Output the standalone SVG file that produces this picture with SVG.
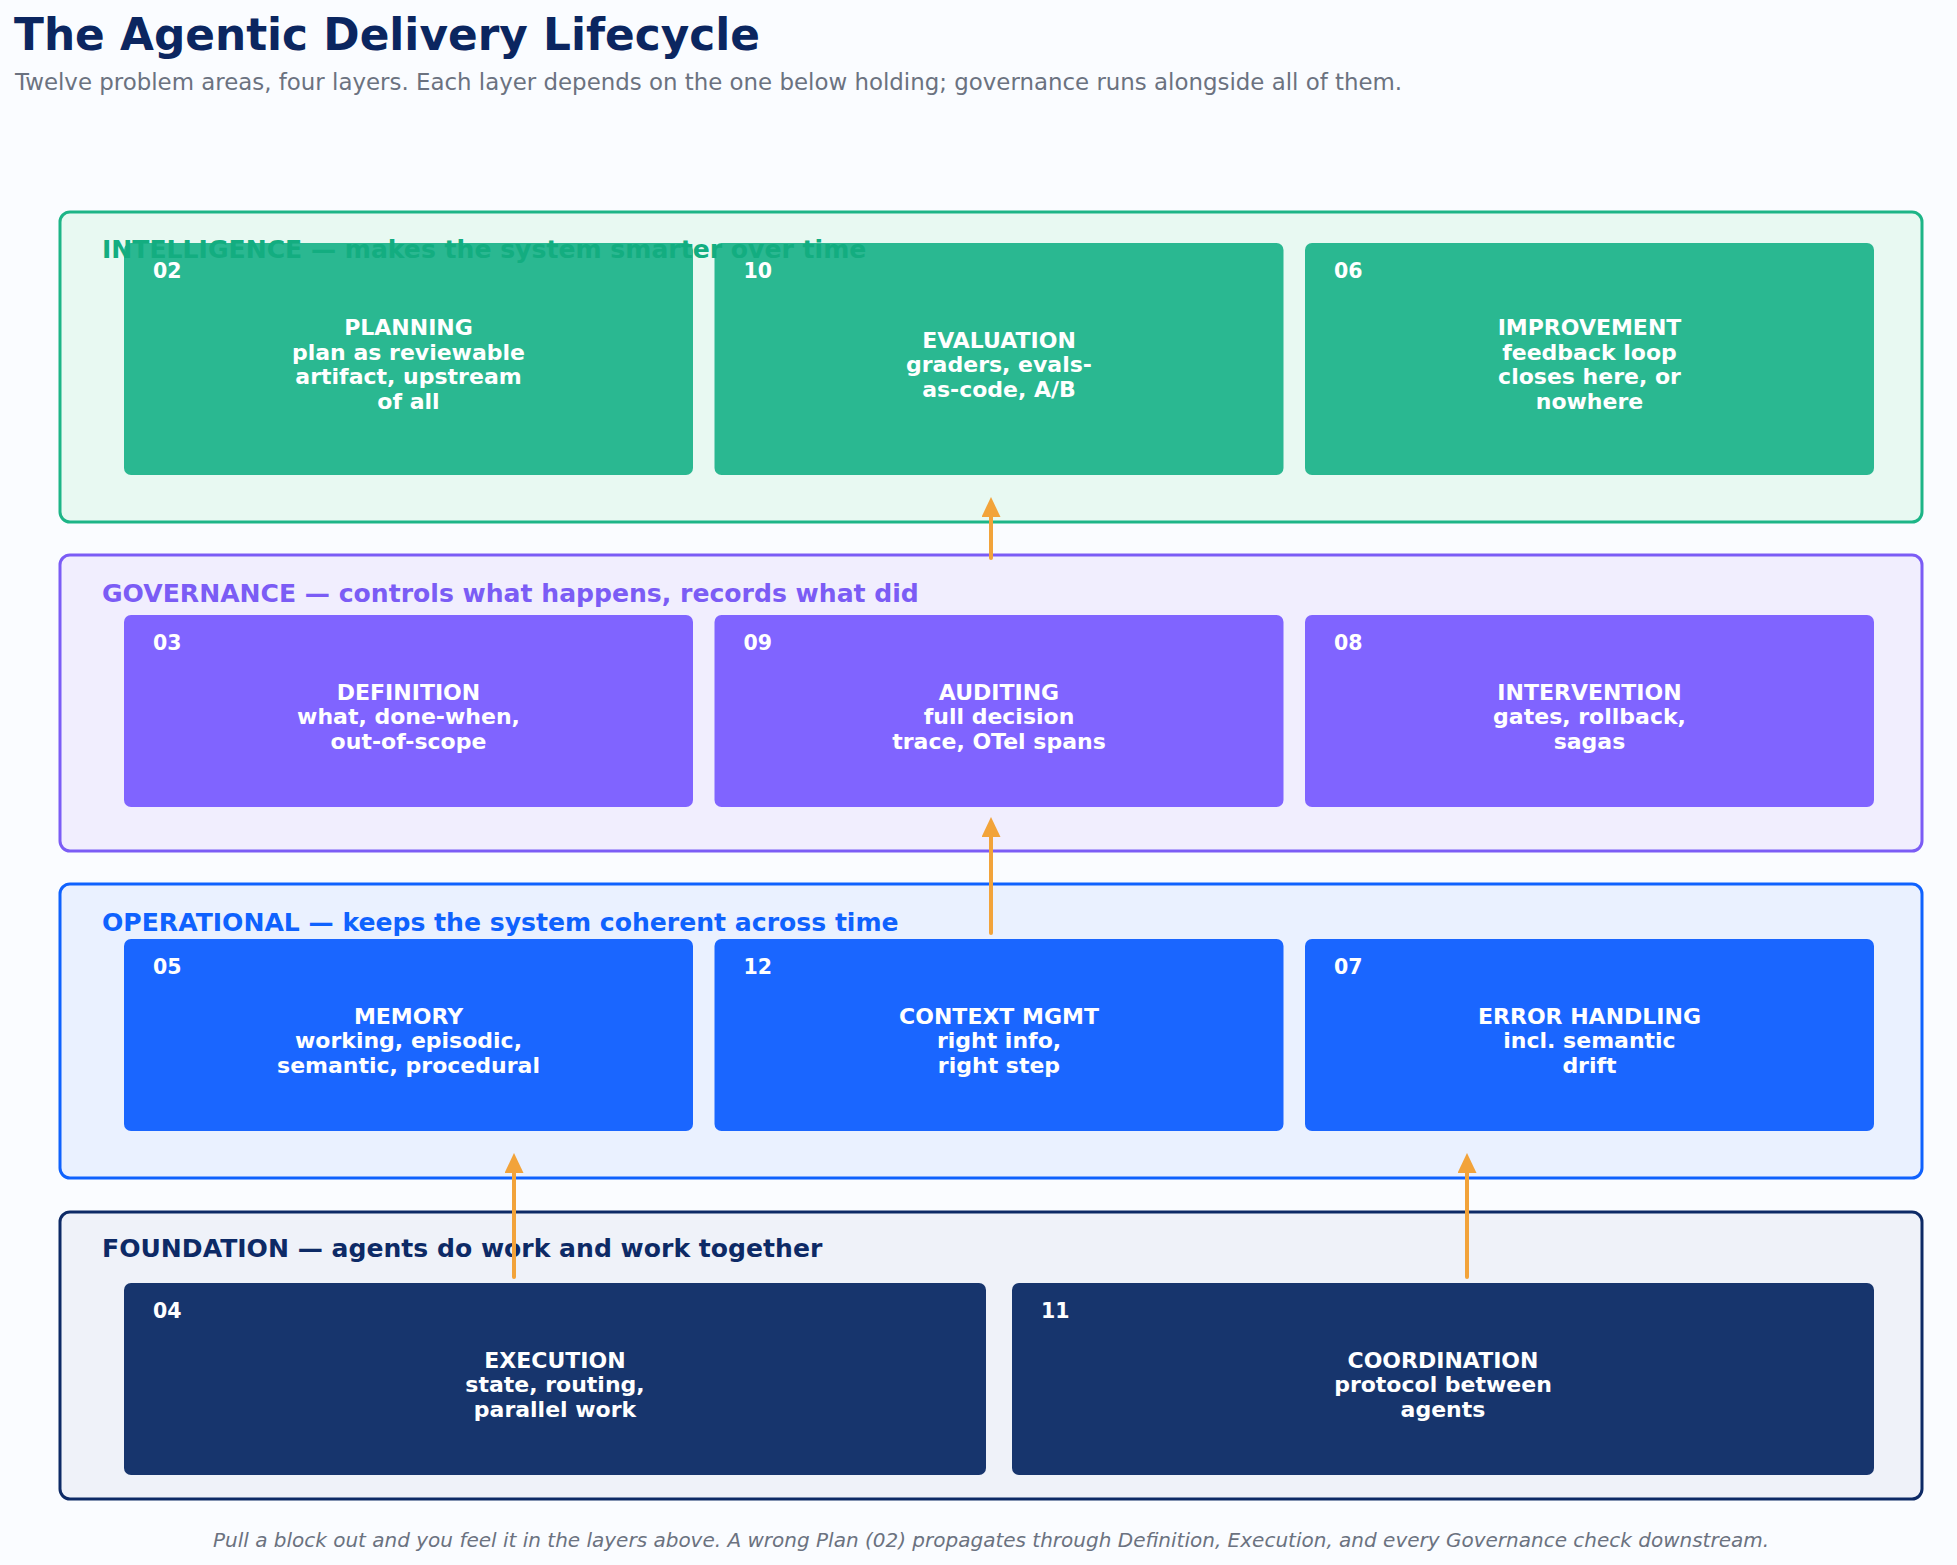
<svg xmlns="http://www.w3.org/2000/svg" width="1957" height="1565" viewBox="0 0 1957 1565">
<defs>
<style>
text{font-family:"DejaVu Sans","Liberation Sans",sans-serif}
.title{font-size:43.8px;font-weight:bold;fill:#0b2660}
.sub{font-size:22.9px;fill:#6b7280}
.foot{font-size:20px;font-style:italic;fill:#6b7280}
.lbl{font-size:25.1px;font-weight:bold}
.num{font-size:20.5px;font-weight:bold;fill:#ffffff}
.ct{font-size:22px;font-weight:bold;fill:#ffffff;text-anchor:middle}
.layer{stroke-width:3}
.conn{stroke:#f2a33a;stroke-width:4;stroke-linecap:round;fill:none}
</style>
<marker id="ah" markerUnits="userSpaceOnUse" markerWidth="20" markerHeight="20" refX="4" refY="9.5" orient="auto">
<path d="M0,0 L20,9.5 L0,19 z" fill="#f2a33a"/>
</marker>
</defs>
<rect width="1957" height="1565" fill="#fafcff"/>
<text class="title" x="14" y="50">The Agentic Delivery Lifecycle</text>
<text class="sub" x="15" y="90">Twelve problem areas, four layers. Each layer depends on the one below holding; governance runs alongside all of them.</text>

<g id="layer-intelligence">
<rect class="layer" x="60" y="212" width="1862" height="310" rx="10" fill="#e8f9f2" stroke="#1db587"/>
</g>
<g id="layer-governance">
<rect class="layer" x="60" y="555" width="1862" height="296" rx="10" fill="#f1eefe" stroke="#7b5cf5"/>
<text class="lbl" x="102" y="602" fill="#7b5cf5">GOVERNANCE — controls what happens, records what did</text>
</g>
<g id="layer-operational">
<rect class="layer" x="60" y="884" width="1862" height="294" rx="10" fill="#eaf1ff" stroke="#0f62fe"/>
<text class="lbl" x="102" y="931" fill="#0f62fe">OPERATIONAL — keeps the system coherent across time</text>
</g>
<g id="layer-foundation">
<rect class="layer" x="60" y="1212" width="1862" height="287" rx="10" fill="#eff2f9" stroke="#0d2a66"/>
<text class="lbl" x="102" y="1257" fill="#0d2a66">FOUNDATION — agents do work and work together</text>
</g>

<g id="node-02">
<rect x="124" y="243" width="569" height="232" rx="7" fill="#2ab891"/>
<text class="num" x="153" y="278">02</text>
<text class="ct" x="408.5" y="335"><tspan x="408.5">PLANNING</tspan><tspan x="408.5" dy="24.5">plan as reviewable</tspan><tspan x="408.5" dy="24.5">artifact, upstream</tspan><tspan x="408.5" dy="24.5">of all</tspan></text>
</g>
<g id="node-10">
<rect x="714.5" y="243" width="569" height="232" rx="7" fill="#2ab891"/>
<text class="num" x="743.5" y="278">10</text>
<text class="ct" x="999" y="347.5"><tspan x="999">EVALUATION</tspan><tspan x="999" dy="24.5">graders, evals-</tspan><tspan x="999" dy="24.5">as-code, A/B</tspan></text>
</g>
<g id="node-06">
<rect x="1305" y="243" width="569" height="232" rx="7" fill="#2ab891"/>
<text class="num" x="1334" y="278">06</text>
<text class="ct" x="1589.5" y="335"><tspan x="1589.5">IMPROVEMENT</tspan><tspan x="1589.5" dy="24.5">feedback loop</tspan><tspan x="1589.5" dy="24.5">closes here, or</tspan><tspan x="1589.5" dy="24.5">nowhere</tspan></text>
</g>
<text class="lbl" x="102" y="258" fill="#13ad80">INTELLIGENCE — makes the system smarter over time</text>

<g id="node-03">
<rect x="124" y="615" width="569" height="192" rx="7" fill="#8064ff"/>
<text class="num" x="153" y="650">03</text>
<text class="ct" x="408.5" y="699.5"><tspan x="408.5">DEFINITION</tspan><tspan x="408.5" dy="24.5">what, done-when,</tspan><tspan x="408.5" dy="24.5">out-of-scope</tspan></text>
</g>
<g id="node-09">
<rect x="714.5" y="615" width="569" height="192" rx="7" fill="#8064ff"/>
<text class="num" x="743.5" y="650">09</text>
<text class="ct" x="999" y="699.5"><tspan x="999">AUDITING</tspan><tspan x="999" dy="24.5">full decision</tspan><tspan x="999" dy="24.5">trace, OTel spans</tspan></text>
</g>
<g id="node-08">
<rect x="1305" y="615" width="569" height="192" rx="7" fill="#8064ff"/>
<text class="num" x="1334" y="650">08</text>
<text class="ct" x="1589.5" y="699.5"><tspan x="1589.5">INTERVENTION</tspan><tspan x="1589.5" dy="24.5">gates, rollback,</tspan><tspan x="1589.5" dy="24.5">sagas</tspan></text>
</g>

<g id="node-05">
<rect x="124" y="939" width="569" height="192" rx="7" fill="#1a66ff"/>
<text class="num" x="153" y="974">05</text>
<text class="ct" x="408.5" y="1023.5"><tspan x="408.5">MEMORY</tspan><tspan x="408.5" dy="24.5">working, episodic,</tspan><tspan x="408.5" dy="24.5">semantic, procedural</tspan></text>
</g>
<g id="node-12">
<rect x="714.5" y="939" width="569" height="192" rx="7" fill="#1a66ff"/>
<text class="num" x="743.5" y="974">12</text>
<text class="ct" x="999" y="1023.5"><tspan x="999">CONTEXT MGMT</tspan><tspan x="999" dy="24.5">right info,</tspan><tspan x="999" dy="24.5">right step</tspan></text>
</g>
<g id="node-07">
<rect x="1305" y="939" width="569" height="192" rx="7" fill="#1a66ff"/>
<text class="num" x="1334" y="974">07</text>
<text class="ct" x="1589.5" y="1023.5"><tspan x="1589.5">ERROR HANDLING</tspan><tspan x="1589.5" dy="24.5">incl. semantic</tspan><tspan x="1589.5" dy="24.5">drift</tspan></text>
</g>

<g id="node-04">
<rect x="124" y="1283" width="862" height="192" rx="7" fill="#17356d"/>
<text class="num" x="153" y="1318">04</text>
<text class="ct" x="555" y="1367.5"><tspan x="555">EXECUTION</tspan><tspan x="555" dy="24.5">state, routing,</tspan><tspan x="555" dy="24.5">parallel work</tspan></text>
</g>
<g id="node-11">
<rect x="1012" y="1283" width="862" height="192" rx="7" fill="#17356d"/>
<text class="num" x="1041" y="1318">11</text>
<text class="ct" x="1443" y="1367.5"><tspan x="1443">COORDINATION</tspan><tspan x="1443" dy="24.5">protocol between</tspan><tspan x="1443" dy="24.5">agents</tspan></text>
</g>

<g id="connectors">
<line class="conn" x1="514" y1="1277" x2="514" y2="1169" marker-end="url(#ah)"/>
<line class="conn" x1="1467" y1="1277" x2="1467" y2="1169" marker-end="url(#ah)"/>
<line class="conn" x1="991" y1="933" x2="991" y2="833" marker-end="url(#ah)"/>
<line class="conn" x1="991" y1="558" x2="991" y2="513" marker-end="url(#ah)"/>
</g>

<text class="foot" x="991" y="1547" text-anchor="middle">Pull a block out and you feel it in the layers above. A wrong Plan (02) propagates through Definition, Execution, and every Governance check downstream.</text>
</svg>
